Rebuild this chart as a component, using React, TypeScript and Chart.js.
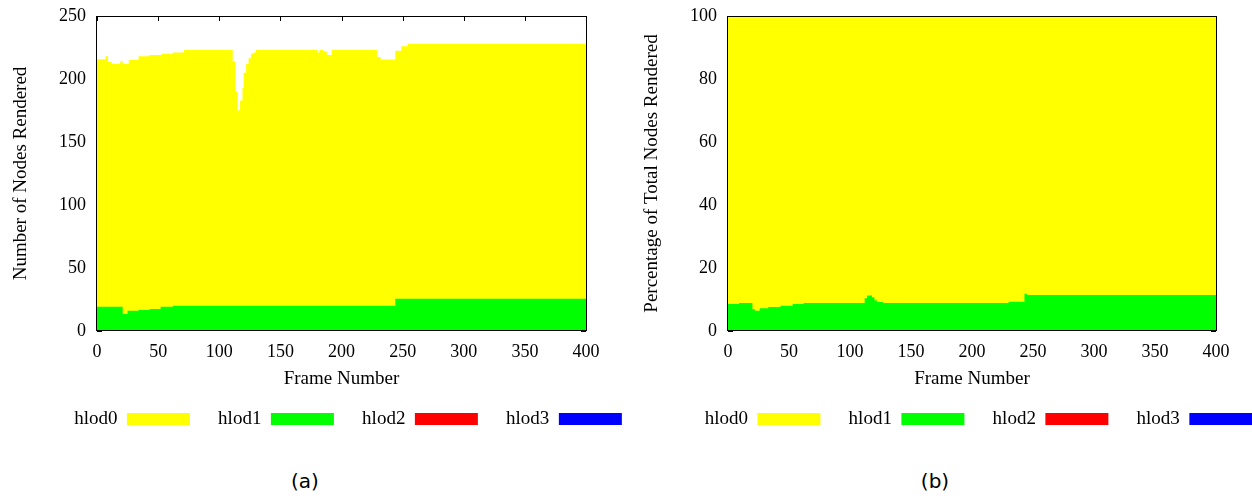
import React, { useEffect, useRef } from 'react';
import { Chart, registerables } from 'chart.js';

Chart.register(...registerables);

// ---- data ----
const seriesNames = ['hlod0', 'hlod1', 'hlod2', 'hlod3'];
const seriesColors = ['#ffff00', '#00ff00', '#ff0000', '#0000ff'];

// (a) number of nodes rendered: top of the yellow band (hlod0 stacked on hlod1)
const nodesTopFrames = [0, 7, 9, 12, 19, 21, 26, 34, 43, 53, 62, 71, 111, 113, 115, 117, 119, 120, 122, 124, 126, 128, 130, 180, 182, 185, 188, 192, 229, 232, 244, 249, 254, 400];
const nodesTopValues = [215.6, 218, 213.5, 212, 214, 212, 215, 218, 219, 220, 221, 223, 214, 190, 175, 183, 193, 205, 212, 216.5, 220, 221, 223, 221, 223, 222, 219, 223, 217.5, 215.5, 222.5, 226, 228, 228];
// (a) hlod1 (green) nodes
const nodesHlod1Frames = [0, 21, 25, 34, 43, 52, 62, 244, 400];
const nodesHlod1Values = [19.3, 13.5, 16, 16.7, 17.5, 19.3, 20.1, 25.5, 25.5];

// (b) percentage of total nodes rendered
const pctTopFrames = [0, 400];
const pctTopValues = [100, 100];
const pctHlod1Frames = [0, 9, 20, 22, 26, 33, 43, 53, 62, 112, 114, 118, 120, 122, 127, 230, 243, 245, 400];
const pctHlod1Values = [8.6, 8.9, 6.9, 6.4, 7.2, 7.6, 8.0, 8.6, 8.9, 10.4, 11.3, 10.7, 9.8, 9.2, 8.9, 9.3, 11.8, 11.4, 11.4];

const FONT = 'Liberation Serif';

const framePlugin = {
  id: 'gnuplotFrame',
  beforeDatasetsDraw(chart: any) {
    const { ctx, chartArea: a, scales } = chart;
    const x = scales.x;
    const y = scales.y;
    const len = 5;
    ctx.save();
    ctx.strokeStyle = '#000';
    ctx.lineWidth = 1;
    ctx.beginPath();
    x.ticks.forEach((t: any) => {
      const px = Math.round(x.getPixelForValue(t.value)) + 0.5;
      ctx.moveTo(px, a.bottom);
      ctx.lineTo(px, a.bottom - len);
      ctx.moveTo(px, a.top);
      ctx.lineTo(px, a.top + len);
    });
    y.ticks.forEach((t: any) => {
      const py = Math.round(y.getPixelForValue(t.value)) + 0.5;
      ctx.moveTo(a.left, py);
      ctx.lineTo(a.left + len, py);
      ctx.moveTo(a.right, py);
      ctx.lineTo(a.right - len, py);
    });
    ctx.stroke();
    ctx.restore();
  },
  afterDatasetsDraw(chart: any) {
    const { ctx, chartArea: a } = chart;
    ctx.save();
    ctx.strokeStyle = '#000';
    ctx.lineWidth = 1;
    ctx.strokeRect(Math.round(a.left) - 0.5, Math.round(a.top) + 0.5, Math.round(a.right - a.left) + 1, Math.round(a.bottom - a.top) - 1);
    ctx.restore();
  },
};

type PanelProps = {
  left: number;
  width: number;
  yWidth: number;
  rightWidth: number;
  yMax: number;
  yStep: number;
  yTitle: string;
  yTitlePad: number;
  topF: number[];
  topV: number[];
  greenF: number[];
  greenV: number[];
};

const HEIGHT = 440;

const noPad = (s: any) => {
  s.paddingTop = 0;
  s.paddingBottom = 0;
  s.paddingLeft = 0;
  s.paddingRight = 0;
};

function Panel(p: PanelProps) {
  const ref = useRef<HTMLCanvasElement | null>(null);
  useEffect(() => {
    if (!ref.current) return;
    const pts = (fr: number[], vals: number[]) => fr.map((f, i) => ({ x: f, y: vals[i] }));
    const ds = (i: number, data: any[], order: number) => ({
      label: seriesNames[i],
      data,
      order,
      backgroundColor: seriesColors[i],
      borderColor: 'rgba(0,0,0,0)',
      borderWidth: 0,
      pointRadius: 0,
      pointHoverRadius: 0,
      stepped: true,
      fill: 'origin',
    });
    const chart = new Chart(ref.current, {
      type: 'line',
      data: {
        datasets: [
          ds(0, pts(p.topF, p.topV), 1),
          ds(1, pts(p.greenF, p.greenV), 0),
          ds(2, [], 2),
          ds(3, [], 3),
        ],
      },
      options: {
        animation: false,
        responsive: false,
        devicePixelRatio: 1,
        events: [],
        layout: { padding: { top: 16, left: 0, right: 0, bottom: HEIGHT - 331 - 50.3 - 57.2 } },
        plugins: {
          legend: {
            position: 'bottom',
            rtl: true,
            reverse: true,
            labels: {
              boxWidth: 63,
              boxHeight: 12,
              padding: 28.2,
              color: '#000',
              font: { family: FONT, size: 19 },
              sort: (a: any, b: any) => a.datasetIndex - b.datasetIndex,
            },
          },
          tooltip: { enabled: false },
        },
        scales: {
          x: {
            type: 'linear',
            min: 0,
            max: 400,
            grid: { display: false, drawTicks: false },
            border: { display: false },
            ticks: { stepSize: 50, padding: 10.2, maxRotation: 0, color: '#000', font: { family: FONT, size: 18 } },
            title: { display: true, text: 'Frame Number', color: '#000', font: { family: FONT, size: 19 }, padding: { top: 0, bottom: -9.4 } },
            afterFit: (s: any) => { s.height = 50.3; noPad(s); },
          },
          y: {
            type: 'linear',
            min: 0,
            max: p.yMax,
            grid: { display: false, drawTicks: false },
            border: { display: false },
            ticks: { stepSize: p.yStep, padding: 11, color: '#000', font: { family: FONT, size: 18 } },
            title: { display: true, text: p.yTitle, color: '#000', font: { family: FONT, size: 19 }, padding: { top: p.yTitlePad, bottom: 0 } },
            afterFit: (s: any) => { s.width = p.yWidth; noPad(s); },
          },
          yRight: {
            type: 'linear',
            position: 'right',
            display: true,
            min: 0,
            max: 1,
            grid: { display: false, drawTicks: false },
            border: { display: false },
            ticks: { display: false },
            afterFit: (s: any) => { s.width = p.rightWidth; noPad(s); },
          },
        },
      } as any,
      plugins: [framePlugin],
    });
    return () => chart.destroy();
  }, []);
  return (
    <canvas
      ref={ref}
      width={p.width}
      height={HEIGHT}
      style={{ position: 'absolute', left: p.left, top: 0, width: p.width, height: HEIGHT }}
    />
  );
}

const captionStyle: React.CSSProperties = {
  position: 'absolute',
  top: 468,
  width: 100,
  textAlign: 'center',
  fontFamily: 'DejaVu Sans',
  fontSize: 20,
  lineHeight: '26px',
  color: '#000',
};

export default function App() {
  return (
    <div style={{ position: 'absolute', left: 0, top: 0, width: 1252, height: 498, overflow: 'hidden', background: '#fff' }}>
      <Panel
        left={0}
        width={696}
        yWidth={97}
        rightWidth={110}
        yMax={250}
        yStep={50}
        yTitle="Number of Nodes Rendered"
        yTitlePad={9.6}
        topF={nodesTopFrames}
        topV={nodesTopValues}
        greenF={nodesHlod1Frames}
        greenV={nodesHlod1Values}
      />
      <Panel
        left={630}
        width={697}
        yWidth={98}
        rightWidth={111}
        yMax={100}
        yStep={20}
        yTitle="Percentage of Total Nodes Rendered"
        yTitlePad={10.9}
        topF={pctTopFrames}
        topV={pctTopValues}
        greenF={pctHlod1Frames}
        greenV={pctHlod1Values}
      />
      <div style={{ ...captionStyle, left: 255 }}>(a)</div>
      <div style={{ ...captionStyle, left: 885 }}>(b)</div>
    </div>
  );
}
